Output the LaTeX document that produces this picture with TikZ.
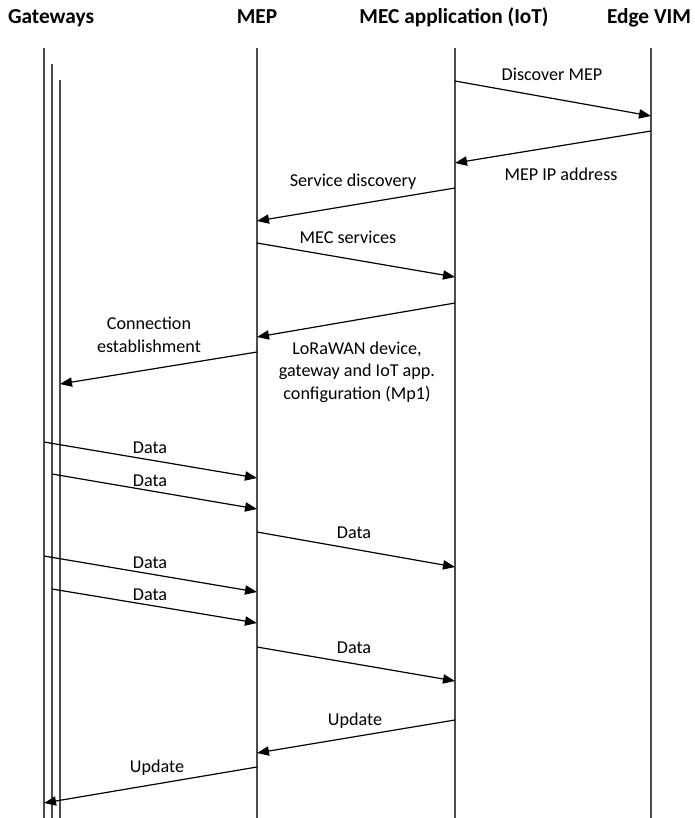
\documentclass[tikz,border=0pt]{standalone}
\usepackage{fontspec}
\setmainfont{Carlito}
\usetikzlibrary{arrows.meta}
\tikzstyle{actor} = [font=\bfseries\fontsize{16}{19}\selectfont, anchor=base, inner sep=0pt]
\tikzstyle{lifeline} = [line width=1.1pt, draw=black!70]
\tikzstyle{msg} = [line width=0.9pt, -{Triangle[length=9pt,width=7pt]}]
\tikzstyle{lbl} = [font=\fontsize{13.6}{16.8}\selectfont, anchor=base, inner sep=0pt, align=center]
\begin{document}
\begin{tikzpicture}[x=0.75pt, y=-0.75pt]
		\useasboundingbox (0,0) rectangle (695,818);

		% actors
		\node (gw)  [actor] at (51,23)  {Gateways};
		\node (mep) [actor] at (257,23) {MEP};
		\node (mec) [actor] at (454,23) {MEC application (IoT)};
		\node (vim) [actor] at (649,23) {Edge VIM};

		% lifelines
		\coordinate (gwA) at (44,48);
		\coordinate (gwB) at (52,64);
		\coordinate (gwC) at (60,80);
		\coordinate (mepL) at (257,48);
		\coordinate (mecL) at (455,48);
		\coordinate (vimL) at (651,48);
		\coordinate (bot) at (0,818);
		\foreach \l in {gwA,gwB,gwC,mepL,mecL,vimL}
			\draw [lifeline] (\l) -- (\l |- bot);

		% messages
		\draw [msg] (mecL |- 0,81) -- (vimL |- 0,116);
		\node (l1) [lbl] at (552,80) {Discover MEP};
		\draw [msg] (vimL |- 0,131) -- (mecL |- 0,163);
		\node (l2) [lbl] at (561,180) {MEP IP address};
		\draw [msg] (mecL |- 0,188) -- (mepL |- 0,221);
		\node (l3) [lbl] at (353,186) {Service discovery};
		\draw [msg] (mepL |- 0,243) -- (mecL |- 0,277);
		\node (l4) [lbl] at (348,243) {MEC services};
		\draw [msg] (mecL |- 0,303) -- (mepL |- 0,337);
		\node (l5) [lbl] at (357,399) {LoRaWAN device,\\gateway and IoT app.\\configuration (Mp1)};
		\draw [msg] (mepL |- 0,352) -- (gwC |- 0,384);
		\node (l6) [lbl] at (149,352) {Connection\\establishment};

		\draw [msg] (gwA |- 0,442) -- (mepL |- 0,478);
		\node (l7) [lbl] at (150,453) {Data};
		\draw [msg] (gwB |- 0,474) -- (mepL |- 0,509);
		\node (l8) [lbl] at (150,486) {Data};
		\draw [msg] (mepL |- 0,532) -- (mecL |- 0,567);
		\node (l9) [lbl] at (354,538) {Data};
		\draw [msg] (gwA |- 0,556) -- (mepL |- 0,592);
		\node (l10) [lbl] at (150,568) {Data};
		\draw [msg] (gwB |- 0,589) -- (mepL |- 0,623);
		\node (l11) [lbl] at (150,600) {Data};
		\draw [msg] (mepL |- 0,647) -- (mecL |- 0,681);
		\node (l12) [lbl] at (354,653) {Data};

		\draw [msg] (mecL |- 0,720) -- (mepL |- 0,753);
		\node (l13) [lbl] at (355,725) {Update};
		\draw [msg] (mepL |- 0,767) -- (gwA |- 0,803);
		\node (l14) [lbl] at (157,772) {Update};
\end{tikzpicture}
\end{document}
